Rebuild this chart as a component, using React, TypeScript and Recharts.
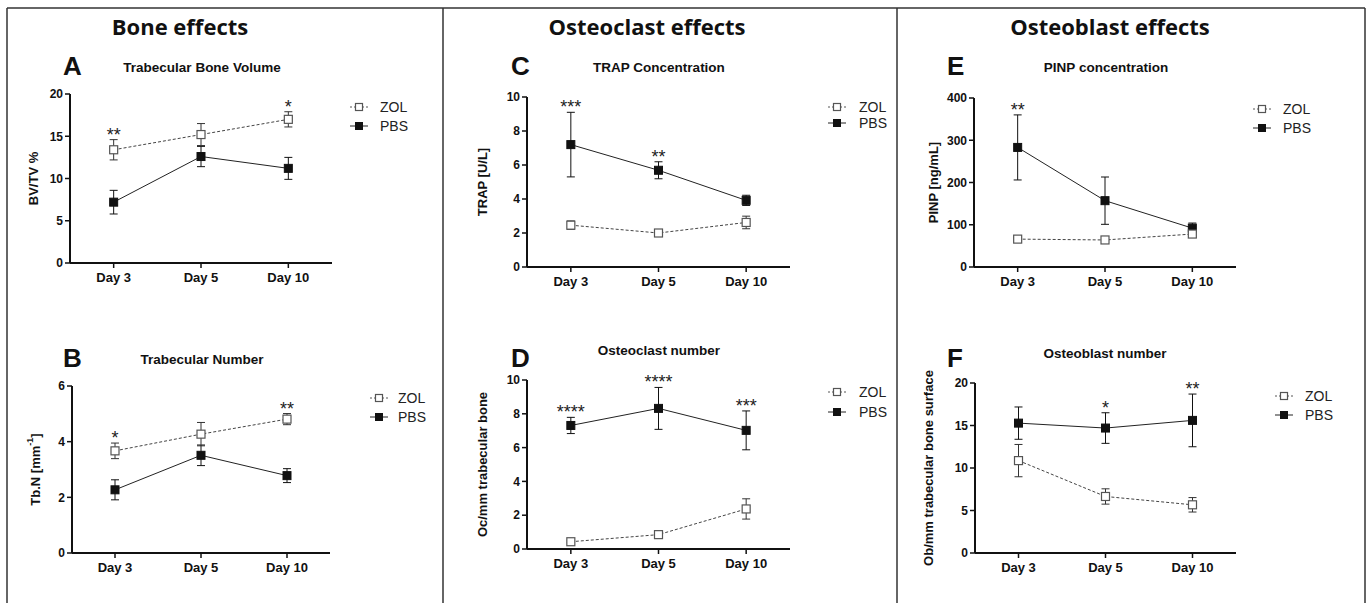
import React from 'react'
import { LineChart, Line, XAxis, YAxis, ErrorBar } from 'recharts'

const FONT = '"Liberation Sans", Arial, sans-serif'
const HEAD_FONT = '"Open Sans", "Liberation Sans", sans-serif'

const days = ['Day 3', 'Day 5', 'Day 10']

// A - trabecular bone volume
const bvZol = [13.4, 15.2, 17.0]
const bvZolErr = [1.2, 1.3, 0.9]
const bvPbs = [7.2, 12.6, 11.2]
const bvPbsErr = [1.4, 1.2, 1.3]
const bvSig = ['**', '', '*']

// B - trabecular number
const tbZol = [3.67, 4.27, 4.81]
const tbZolErr = [0.28, 0.42, 0.2]
const tbPbs = [2.27, 3.51, 2.78]
const tbPbsErr = [0.36, 0.37, 0.25]
const tbSig = ['*', '', '**']

// C - TRAP
const trapZol = [2.46, 2.0, 2.62]
const trapZolErr = [0.25, 0.1, 0.37]
const trapPbs = [7.2, 5.69, 3.92]
const trapPbsErr = [1.9, 0.5, 0.3]
const trapSig = ['***', '**', '']

// D - osteoclast number
const ocZol = [0.43, 0.85, 2.37]
const ocZolErr = [0.05, 0.08, 0.6]
const ocPbs = [7.31, 8.32, 7.02]
const ocPbsErr = [0.48, 1.24, 1.15]
const ocSig = ['****', '****', '***']

// E - PINP
const pinpZol = [66, 64, 78]
const pinpZolErr = [4, 4, 8]
const pinpPbs = [283, 157, 92]
const pinpPbsErr = [77, 56, 12]
const pinpSig = ['**', '', '']

// F - osteoblast number
const obZol = [10.87, 6.65, 5.67]
const obZolErr = [1.9, 0.9, 0.85]
const obPbs = [15.28, 14.7, 15.6]
const obPbsErr = [1.9, 1.8, 3.1]
const obSig = ['', '*', '**']

const headers = [
  { text: 'Bone effects', x: 180 },
  { text: 'Osteoclast effects', x: 647 },
  { text: 'Osteoblast effects', x: 1110 },
]

type PanelCfg = {
  letter: string
  title: string
  yLabel: string
  ySup?: string
  zol: number[]
  zolErr: number[]
  pbs: number[]
  pbsErr: number[]
  sig: string[]
  yMax: number
  yTicks: number[]
  box: { left: number; top: number; right: number; bottom: number }
  labelGap: number
  letterPos: [number, number]
  titlePos: [number, number]
  legend: [number, number, number, number]
}

const panels: PanelCfg[] = [
  {
    letter: 'A', title: 'Trabecular Bone Volume', yLabel: 'BV/TV %',
    zol: bvZol, zolErr: bvZolErr, pbs: bvPbs, pbsErr: bvPbsErr, sig: bvSig,
    yMax: 20, yTicks: [0, 5, 10, 15, 20],
    box: { left: 70, top: 94, right: 332, bottom: 263 }, labelGap: 37,
    letterPos: [63, 75], titlePos: [202, 72], legend: [350, 107, 126, 380],
  },
  {
    letter: 'B', title: 'Trabecular Number', yLabel: 'Tb.N [mm', ySup: '-1',
    zol: tbZol, zolErr: tbZolErr, pbs: tbPbs, pbsErr: tbPbsErr, sig: tbSig,
    yMax: 6, yTicks: [0, 2, 4, 6],
    box: { left: 72, top: 386, right: 330, bottom: 553 }, labelGap: 37,
    letterPos: [63, 367], titlePos: [202, 364], legend: [370, 398, 417, 398],
  },
  {
    letter: 'C', title: 'TRAP Concentration', yLabel: 'TRAP [U/L]',
    zol: trapZol, zolErr: trapZolErr, pbs: trapPbs, pbsErr: trapPbsErr, sig: trapSig,
    yMax: 10, yTicks: [0, 2, 4, 6, 8, 10],
    box: { left: 527, top: 97, right: 790, bottom: 267 }, labelGap: 45,
    letterPos: [511, 75], titlePos: [659, 72], legend: [828, 107, 123, 859],
  },
  {
    letter: 'D', title: 'Osteoclast number', yLabel: 'Oc/mm trabecular bone',
    zol: ocZol, zolErr: ocZolErr, pbs: ocPbs, pbsErr: ocPbsErr, sig: ocSig,
    yMax: 10, yTicks: [0, 2, 4, 6, 8, 10],
    box: { left: 527, top: 380, right: 790, bottom: 549 }, labelGap: 45,
    letterPos: [511, 367], titlePos: [659, 355], legend: [828, 392, 412, 859],
  },
  {
    letter: 'E', title: 'PINP concentration', yLabel: 'PINP [ng/mL]',
    zol: pinpZol, zolErr: pinpZolErr, pbs: pinpPbs, pbsErr: pinpPbsErr, sig: pinpSig,
    yMax: 400, yTicks: [0, 100, 200, 300, 400],
    box: { left: 974, top: 98, right: 1236, bottom: 267 }, labelGap: 41,
    letterPos: [947, 75], titlePos: [1106, 72], legend: [1253, 109, 128, 1283],
  },
  {
    letter: 'F', title: 'Osteoblast number', yLabel: 'Ob/mm trabecular bone surface',
    zol: obZol, zolErr: obZolErr, pbs: obPbs, pbsErr: obPbsErr, sig: obSig,
    yMax: 20, yTicks: [0, 5, 10, 15, 20],
    box: { left: 975, top: 383, right: 1236, bottom: 553 }, labelGap: 47,
    letterPos: [947, 367], titlePos: [1105, 358], legend: [1275, 396, 415, 1305],
  },
]

function buildRows(p: PanelCfg) {
  return days.map((day, i) => ({
    day,
    zol: p.zol[i],
    zolErr: p.zolErr[i],
    pbs: p.pbs[i],
    pbsErr: p.pbsErr[i],
    top: Math.max(p.zol[i] + p.zolErr[i], p.pbs[i] + p.pbsErr[i]),
  }))
}

function YTitle(props: any) {
  const vb = props.viewBox || { x: 0, y: 0, width: 60, height: 0 }
  const cx = vb.x + vb.width - props.gap
  const cy = vb.y + vb.height / 2
  return (
    <text
      transform={`translate(${cx},${cy}) rotate(-90)`}
      textAnchor="middle"
      dominantBaseline="central"
      fontFamily={FONT}
      fontWeight={700}
      fontSize={13}
      fill="#111"
    >
      {props.text}
      {props.sup ? (
        <>
          <tspan dy={-5} fontSize={9}>{props.sup}</tspan>
          <tspan dy={5}>]</tspan>
        </>
      ) : null}
    </text>
  )
}

const zolDot = (p: any) => (
  <rect key={`z${p.index}`} x={p.cx - 4} y={p.cy - 4} width={8} height={8} fill="#fff" stroke="#555" strokeWidth={1.2} />
)
const pbsDot = (p: any) => (
  <rect key={`p${p.index}`} x={p.cx - 4} y={p.cy - 4} width={8} height={8} fill="#111" stroke="#111" strokeWidth={1} />
)

// significance stars sit just above the highest error bar of each day
const starLabel = (sig: string[]) => (p: any) => {
  const s = sig[p.index]
  if (!s) return <g key={`s${p.index}`} />
  return (
    <text key={`s${p.index}`} x={p.x} y={p.y + 1} textAnchor="middle" fontFamily={FONT} fontSize={18} fill="#222">
      {s}
    </text>
  )
}

function Panel({ p }: { p: PanelCfg }) {
  const { left, top, right, bottom } = p.box
  const plotW = right - left
  const plotH = bottom - top
  const ML = 60
  const MT = 20
  const MR = 10
  const XH = 30
  const rows = buildRows(p)
  return (
    <div style={{ position: 'absolute', left: left - ML, top: top - MT }}>
      <LineChart
        width={plotW + ML + MR}
        height={plotH + MT + XH}
        data={rows}
        margin={{ top: MT, right: MR, left: 0, bottom: 0 }}
        style={{ overflow: 'visible' }}
      >
        <XAxis
          dataKey="day"
          padding={{ left: plotW / 6, right: plotW / 6 }}
          interval={0}
          height={XH}
          tickSize={5}
          tickMargin={5}
          axisLine={{ stroke: '#111', strokeWidth: 2 }}
          tickLine={{ stroke: '#111', strokeWidth: 1.5 }}
          tick={{ fill: '#111', fontSize: 13, fontWeight: 700, fontFamily: FONT }}
        />
        <YAxis
          width={ML}
          domain={[0, p.yMax]}
          ticks={p.yTicks}
          interval={0}
          allowDataOverflow
          tickSize={5}
          tickMargin={2}
          axisLine={{ stroke: '#111', strokeWidth: 2 }}
          tickLine={{ stroke: '#111', strokeWidth: 1.5 }}
          tick={{ fill: '#111', fontSize: 12, fontWeight: 700, fontFamily: FONT }}
          label={<YTitle gap={p.labelGap} text={p.yLabel} sup={p.ySup} />}
        />
        <Line dataKey="pbs" stroke="#222" strokeWidth={1} dot={pbsDot} activeDot={false} isAnimationActive={false}>
          <ErrorBar dataKey="pbsErr" direction="y" width={4} strokeWidth={1} stroke="#111" />
        </Line>
        <Line dataKey="zol" stroke="#444" strokeWidth={1} strokeDasharray="3 2" dot={zolDot} activeDot={false} isAnimationActive={false}>
          <ErrorBar dataKey="zolErr" direction="y" width={4} strokeWidth={1} stroke="#333" />
        </Line>
        <Line dataKey="top" stroke="none" dot={false} activeDot={false} legendType="none" label={starLabel(p.sig)} isAnimationActive={false} />
      </LineChart>
    </div>
  )
}

function Overlay() {
  return (
    <svg width={1370} height={603} style={{ position: 'absolute', left: 0, top: 0 }}>
      <g stroke="#333" strokeWidth={1.5}>
        <line x1={7} y1={8} x2={1365} y2={8} />
        <line x1={7} y1={8} x2={7} y2={603} />
        <line x1={443} y1={8} x2={443} y2={603} />
        <line x1={897} y1={8} x2={897} y2={603} />
        <line x1={1365} y1={8} x2={1365} y2={603} />
      </g>
      {headers.map((h) => (
        <text key={h.text} x={h.x} y={35} textAnchor="middle" fontFamily={HEAD_FONT} fontWeight={700} fontSize={22} fill="#111">
          {h.text}
        </text>
      ))}
      {panels.map((p) => {
        const [lx, zy, py, tx] = p.legend
        return (
          <g key={p.letter}>
            <text x={p.letterPos[0]} y={p.letterPos[1]} fontFamily={FONT} fontWeight={700} fontSize={26} fill="#111">
              {p.letter}
            </text>
            <text x={p.titlePos[0]} y={p.titlePos[1]} textAnchor="middle" fontFamily={FONT} fontWeight={700} fontSize={13.5} fill="#111">
              {p.title}
            </text>
            <line x1={lx} y1={zy} x2={lx + 18} y2={zy} stroke="#555" strokeWidth={1} strokeDasharray="2 2" />
            <rect x={lx + 5.5} y={zy - 3.5} width={7} height={7} fill="#fff" stroke="#555" strokeWidth={1.2} />
            <text x={tx} y={zy + 5} fontFamily={FONT} fontSize={14} fill="#222">ZOL</text>
            <line x1={lx} y1={py} x2={lx + 18} y2={py} stroke="#222" strokeWidth={1} />
            <rect x={lx + 5} y={py - 4} width={8} height={8} fill="#111" />
            <text x={tx} y={py + 5} fontFamily={FONT} fontSize={14} fill="#222">PBS</text>
          </g>
        )
      })}
    </svg>
  )
}

export default function App() {
  return (
    <div style={{ position: 'absolute', left: 0, top: 0, width: 1370, height: 603, background: '#fff', overflow: 'hidden' }}>
      <Overlay />
      {panels.map((p) => (
        <Panel key={p.letter} p={p} />
      ))}
    </div>
  )
}
